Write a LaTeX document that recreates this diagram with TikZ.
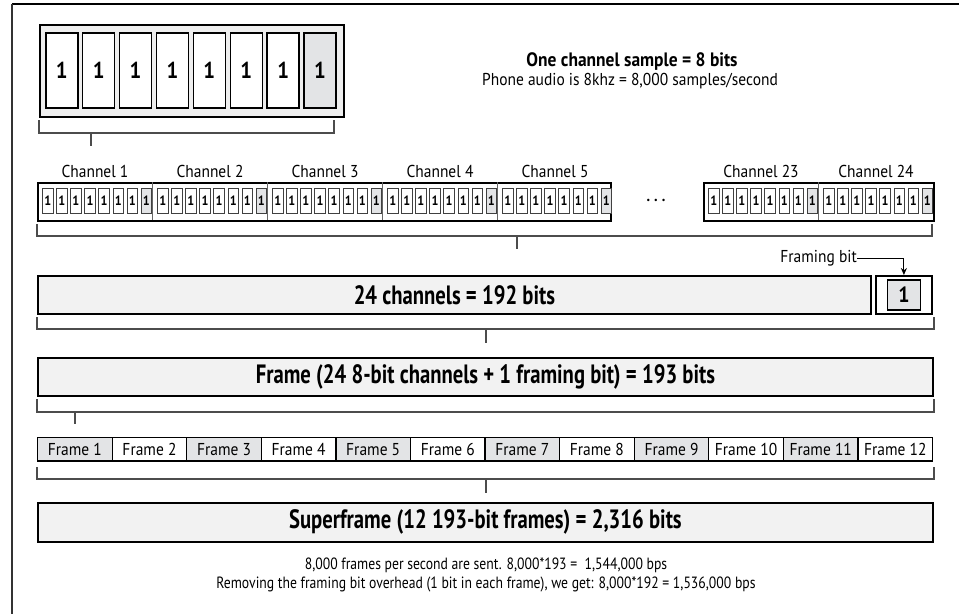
\documentclass[tikz,border=0pt]{standalone}
\usepackage{fontspec}
\setmainfont{PT Sans}[FakeStretch=0.9]
\newfontfamily\bigfam{PT Sans}[FakeStretch=0.78]
\newfontfamily\smallfam{PT Sans}[FakeStretch=0.84]
\usetikzlibrary{arrows.meta}
\newcommand{\bigbold}{\bigfam\fontsize{26.5}{30}\selectfont\bfseries}
\newcommand{\medbold}{\fontsize{19.4}{22}\selectfont\bfseries}
\newcommand{\lbltext}{\fontsize{17.2}{20}\selectfont}
\newcommand{\notetext}{\smallfam\fontsize{16.3}{19}\selectfont}
\definecolor{barfill}{HTML}{F2F2F2}
\definecolor{bitgray}{HTML}{E3E4E6}
\begin{document}
\begin{tikzpicture}[x=1pt,y=-1pt,
  bar/.style={draw=black, line width=1.8pt, fill=barfill, inner sep=0pt, anchor=north west, font=\bigbold},
  bigcell/.style={draw=black, line width=1.5pt, fill=white, minimum width=32pt, minimum height=75pt, inner sep=0pt, anchor=north west, font=\fontsize{23}{23}\selectfont\bfseries},
  smallcell/.style={draw=black!75, line width=0.9pt, fill=white, minimum width=10.5pt, minimum height=25pt, inner sep=0pt, anchor=north west, font=\fontsize{13.5}{14}\selectfont\bfseries},
  shaded/.style={fill=bitgray},
  group/.style={draw=black, line width=1.8pt, fill=white, inner sep=0pt, anchor=north west},
  framecell/.style={draw=black, line width=1.2pt, fill=white, minimum width=74.58pt, minimum height=24pt, inner sep=0pt, anchor=north west, font=\lbltext},
  bracket/.style={draw=black!70, line width=1.1pt},
  lbl/.style={inner sep=0pt, font=\lbltext}
]
\useasboundingbox (0,0) rectangle (959,614);
% page border (top and left)
\draw[line width=1.5pt] (12,4) -- (959,4);
\draw[line width=1.2pt, draw=black!80] (12,4) -- (12,614);

% ---- one channel sample ----
\node[bar, fill=gray!13, minimum width=304pt, minimum height=92pt] (sample) at (39,24) {};
\foreach \i in {1,...,8} {
  \pgfmathsetmacro{\xx}{45+(\i-1)*36.9}
  \ifnum\i=8
    \node[bigcell, shaded] (b\i) at (\xx,32) {1};
  \else
    \node[bigcell] (b\i) at (\xx,32) {1};
  \fi
}
\draw[bracket] (39,120) -- (39,133) -- (334,133) -- (334,120);
\draw[bracket] (91,133) -- (91,146);
\node[inner sep=0pt, font=\medbold] (t1) at (632,62) {One channel sample = 8 bits};
\node[lbl] (t2) at (630,81.5) {Phone audio is 8khz = 8,000 samples/second};

% ---- channel row ----
\node[group, minimum width=573pt, minimum height=38pt] (g1) at (37,182) {};
\node[group, minimum width=230pt, minimum height=38pt] (g2) at (703,182) {};
\foreach \c/\x in {1/37,2/152,3/267,4/382,5/497,23/703,24/818} {
  \node[lbl] (ch\c) at (\x+58,171) {Channel \c};
  \foreach \i in {1,...,8} {
    \pgfmathsetmacro{\xx}{\x+5+(\i-1)*14.1}
    \ifnum\i=8
      \node[smallcell, shaded] (c\c-\i) at (\xx,188) {1};
    \else
      \node[smallcell] (c\c-\i) at (\xx,188) {1};
    \fi
  }
}
\foreach \x in {152,267,382,497} \draw[black!60, line width=0.8pt] (\x,182) -- (\x,220);
\draw[black!60, line width=0.8pt] (818,182) -- (818,220);
\node[inner sep=0pt, font=\fontsize{16}{16}\selectfont\bfseries] (dots) at (656,200) {.\hspace{4pt}.\hspace{4pt}.};
\draw[bracket] (37,224) -- (37,236) -- (932,236) -- (932,224);
\draw[bracket] (517,236) -- (517,249);

% ---- framing bit ----
\node[lbl, anchor=east] (fbl) at (857,258) {Framing bit};
\node[bar, fill=white, minimum width=56pt, minimum height=38pt] (fbox) at (875,275) {};
\node[draw=black, line width=1.5pt, fill=bitgray, minimum width=33pt, minimum height=30pt, inner sep=0pt, font=\fontsize{22}{22}\selectfont\bfseries] (fbit) at (fbox.center) {1};
\draw[-{Stealth[length=7pt,width=6pt]}, line width=0.9pt] (fbl.east) -| (fbox.north);

% ---- 24 channels ----
\node[bar, minimum width=833pt, minimum height=38pt] (ch24) at (37,275) {};
\node[inner sep=0pt, font=\bigbold] (ch24t) at (ch24.center) {24 channels = 192 bits};
\draw[bracket] (37,317) -- (37,329) -- (934,329) -- (934,317);
\draw[bracket] (486,329) -- (486,343);

% ---- frame ----
\node[bar, minimum width=895pt, minimum height=38pt] (frame) at (37,357) {};
\node[inner sep=0pt, font=\bigbold] (framet) at (frame.center) {Frame (24 8-bit channels + 1 framing bit) = 193 bits};
\draw[bracket] (37,399) -- (37,412) -- (934,412) -- (934,399);
\draw[bracket] (75,412) -- (75,424);

% ---- frames row ----
\foreach \i in {1,...,12} {
  \pgfmathsetmacro{\xx}{37+(\i-1)*74.58}
  \ifodd\i
    \node[framecell, fill=bitgray] (f\i) at (\xx,437) {Frame \i};
  \else
    \node[framecell] (f\i) at (\xx,437) {Frame \i};
  \fi
}
\draw[line width=2pt] (37,461) -- (932,461);
\draw[bracket] (37,467) -- (37,479) -- (934,479) -- (934,467);
\draw[bracket] (486,479) -- (486,493);

% ---- superframe ----
\node[bar, minimum width=895pt, minimum height=39pt] (super) at (37,502) {};
\node[inner sep=0pt, font=\bigbold] (supert) at (super.center) {Superframe (12 193-bit frames) = 2,316 bits};

% ---- bottom text ----
\node[inner sep=0pt, font=\notetext] (n1) at (486,565.5) {8,000 frames per second are sent. 8,000*193 =\ \ 1,544,000 bps};
\node[inner sep=0pt, font=\notetext] (n2) at (486,584.5) {Removing the framing bit overhead (1 bit in each frame), we get: 8,000*192 = 1,536,000 bps};
\end{tikzpicture}
\end{document}
